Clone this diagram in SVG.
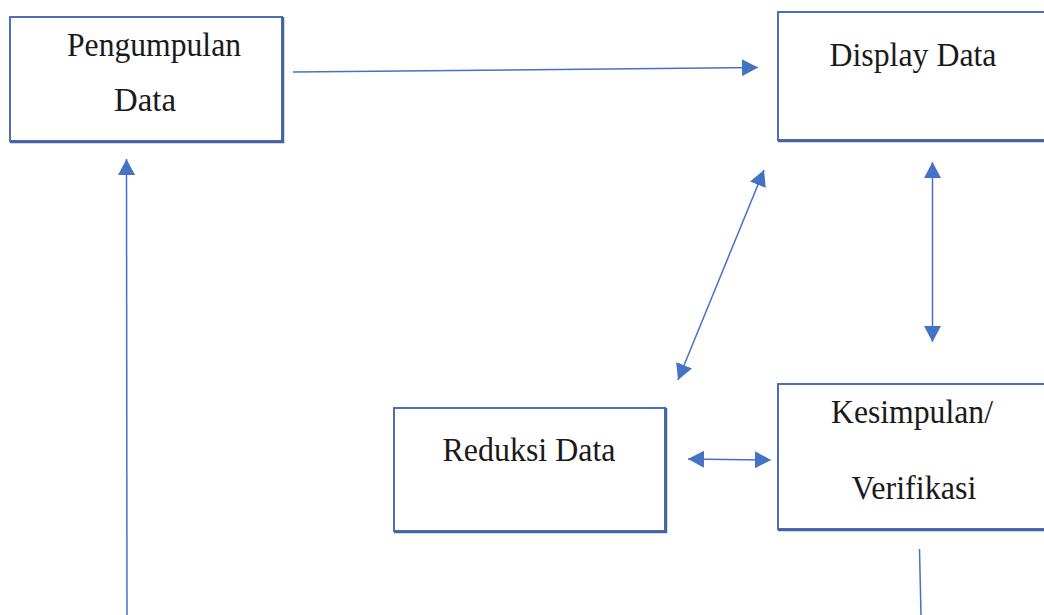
<svg xmlns="http://www.w3.org/2000/svg" width="1044" height="615" viewBox="0 0 1044 615">
<style>
.box{fill:#ffffff;stroke:#4a6fb4;stroke-width:2}
.shadow{fill:none;stroke:#44649f;stroke-width:2.5}
.lbl{font-family:"Liberation Serif","Times New Roman",serif;font-size:34px;fill:#1a1a1a;text-anchor:middle}
.conn{fill:none;stroke:#4472c4;stroke-width:1.5}
</style>
<defs>
<marker id="ah" markerUnits="userSpaceOnUse" markerWidth="16" markerHeight="17" viewBox="0 0 16 17" refX="16" refY="8.5" orient="auto-start-reverse">
<path d="M0,0 L16,8.5 L0,17 Z" fill="#4472c4"/>
</marker>
</defs>
<rect width="1044" height="615" fill="#ffffff"/>
<g id="node-pengumpulan">
<rect class="box" x="10" y="17" width="272" height="124"/>
<path class="shadow" d="M283,17 V142 H10"/>
<text class="lbl" x="154" y="56" textLength="174" lengthAdjust="spacingAndGlyphs">Pengumpulan</text>
<text class="lbl" x="145" y="111" textLength="62" lengthAdjust="spacingAndGlyphs">Data</text>
</g>
<g id="node-display">
<rect class="box" x="778" y="12" width="280" height="128"/>
<path class="shadow" d="M778,141 H1044"/>
<text class="lbl" x="913" y="66" textLength="167" lengthAdjust="spacingAndGlyphs">Display Data</text>
</g>
<g id="node-reduksi">
<rect class="box" x="394" y="408" width="271" height="123"/>
<path class="shadow" d="M666,408 V532 H394"/>
<text class="lbl" x="529" y="461" textLength="173" lengthAdjust="spacingAndGlyphs">Reduksi Data</text>
</g>
<g id="node-kesimpulan">
<rect class="box" x="778" y="384" width="280" height="145"/>
<path class="shadow" d="M778,530 H1044"/>
<text class="lbl" x="912" y="423" textLength="162" lengthAdjust="spacingAndGlyphs">Kesimpulan/</text>
<text class="lbl" x="914" y="499" textLength="125" lengthAdjust="spacingAndGlyphs">Verifikasi</text>
</g>
<g id="connectors">
<line class="conn" x1="293" y1="72" x2="758" y2="67.5" marker-end="url(#ah)"/>
<line class="conn" x1="127" y1="615" x2="126.5" y2="159" marker-end="url(#ah)"/>
<line class="conn" x1="678" y1="380" x2="764" y2="170" marker-start="url(#ah)" marker-end="url(#ah)"/>
<line class="conn" x1="932.5" y1="342" x2="932.5" y2="162" marker-start="url(#ah)" marker-end="url(#ah)"/>
<line class="conn" x1="688" y1="459" x2="771" y2="460" marker-start="url(#ah)" marker-end="url(#ah)"/>
<line class="conn" x1="919.5" y1="549" x2="921" y2="615"/>
</g>
</svg>
